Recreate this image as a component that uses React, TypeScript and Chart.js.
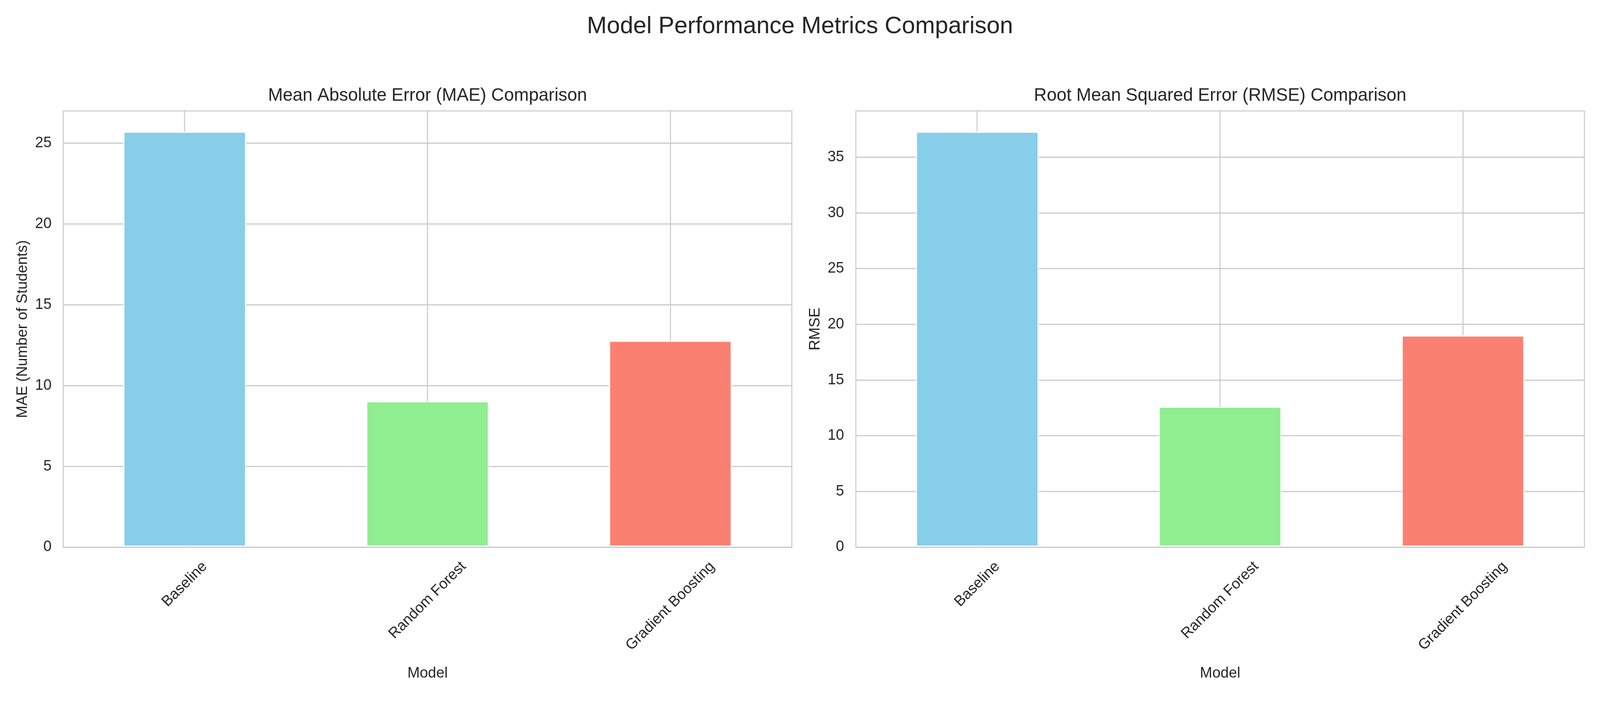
import React, { useEffect, useRef } from 'react'
import { Chart, registerables } from 'chart.js'

Chart.register(...registerables)

// values
const models = ['Baseline', 'Random Forest', 'Gradient Boosting']
const maeValues = [25.72, 9.03, 12.78]
const rmseValues = [37.3, 12.61, 19.0]
const yTickStep = 5

const FONT = '"Liberation Sans", Arial, Helvetica, sans-serif'
const TEXT = '#262626'
const GRID = '#cccccc'
const BAR_COLORS = ['#87ceeb', '#90ee90', '#fa8072']

// layout is measured on a 4500x1800 figure, then mapped onto the real window
const FIG_W = 4500
const FIG_H = 1800
const VIEW_W = window.innerWidth || FIG_W
const VIEW_H = window.innerHeight || FIG_H
const SX = VIEW_W / FIG_W
const SY = VIEW_H / FIG_H
const sx = (v: number) => v * SX
const sy = (v: number) => v * SY
const fs = (v: number) => v * SX

const TICK_SIZE = 41.7
const LINE = 3

// matplotlib-ish extras: subplot title, centred rotated x labels, 4-sided frame
const mplPlugin = {
  id: 'mplText',
  afterDatasetsDraw(chart: any) {
    const { ctx, chartArea: a } = chart
    ctx.save()
    ctx.strokeStyle = GRID
    ctx.lineWidth = sx(LINE)
    ctx.strokeRect(a.left, a.top, a.right - a.left, a.bottom - a.top)
    ctx.restore()
  },
  afterDraw(chart: any, _args: any, opts: any) {
    const { ctx, chartArea: a } = chart
    const xScale = chart.scales.x
    ctx.save()
    ctx.fillStyle = TEXT
    ctx.font = `${fs(50)}px ${FONT}`
    ctx.textAlign = 'center'
    ctx.textBaseline = 'alphabetic'
    ctx.fillText(opts.title, (a.left + a.right) / 2, a.top - sy(26))

    ctx.font = `${fs(TICK_SIZE)}px ${FONT}`
    ctx.textBaseline = 'middle'
    chart.data.labels.forEach((label: string, i: number) => {
      const w = ctx.measureText(label).width
      const box = (w + fs(TICK_SIZE) * 1.16) / Math.SQRT2
      const cx = xScale.getPixelForTick(i)
      const cy = a.bottom + sy(28) + box / 2
      ctx.save()
      ctx.translate(cx, cy)
      ctx.rotate(-Math.PI / 4)
      ctx.fillText(label, 0, 0)
      ctx.restore()
    })
    ctx.restore()
  },
}

interface PanelProps {
  title: string
  yLabel: string
  values: number[]
  left: number
  right: number
  yAxisWidth: number
  plotRight: number
  yTitleCenter: number
}

function BarPanel({ title, yLabel, values, left, right, yAxisWidth, plotRight, yTitleCenter }: PanelProps) {
  const canvasRef = useRef<HTMLCanvasElement>(null)
  const chartRef = useRef<Chart | null>(null)
  const cw = Math.round(sx(right)) - Math.round(sx(left))
  const ch = Math.round(sy(FIG_H))

  useEffect(() => {
    if (!canvasRef.current) return
    const ctx = canvasRef.current.getContext('2d')
    if (!ctx) return
    const yMax = Math.max(...values) * 1.05
    const halfLine = fs(TICK_SIZE) * 0.6

    chartRef.current = new Chart(ctx, {
      type: 'bar',
      data: {
        labels: models,
        datasets: [{
          label: yLabel,
          data: values,
          backgroundColor: BAR_COLORS,
          borderColor: '#ffffff',
          borderWidth: sx(3),
          borderSkipped: false,
          barPercentage: 0.505,
          categoryPercentage: 1,
        }],
      },
      options: {
        responsive: false,
        devicePixelRatio: 1,
        animation: false,
        layout: { padding: { top: sy(284), right: cw - sx(plotRight - left), bottom: 0, left: 0 } },
        plugins: {
          legend: { display: false },
          tooltip: { enabled: false },
          mplText: { title },
        } as any,
        scales: {
          x: {
            offset: true,
            grid: { offset: false, color: GRID, lineWidth: sx(LINE), drawTicks: false },
            border: { display: false },
            ticks: { display: false },
            title: {
              display: true,
              text: 'Model',
              color: TEXT,
              font: { family: FONT, size: fs(TICK_SIZE) },
              padding: { top: 0, bottom: sy(75) - halfLine },
            },
            afterFit: (scale: any) => { scale.height = sy(FIG_H - 1401) },
          },
          y: {
            min: 0,
            max: yMax,
            grid: { color: GRID, lineWidth: sy(LINE), drawTicks: false },
            border: { display: false },
            ticks: {
              stepSize: yTickStep,
              padding: sx(33),
              color: TEXT,
              font: { family: FONT, size: fs(TICK_SIZE) },
            },
            title: {
              display: true,
              text: yLabel,
              color: TEXT,
              font: { family: FONT, size: fs(TICK_SIZE) },
              padding: { top: sx(yTitleCenter - left) - halfLine, bottom: 0 },
            },
            afterBuildTicks: (scale: any) => {
              scale.ticks = scale.ticks.filter((t: any) => Math.abs(t.value % yTickStep) < 1e-9)
            },
            afterFit: (scale: any) => { scale.width = sx(yAxisWidth - left) },
          },
        },
      },
      plugins: [mplPlugin],
    })

    return () => {
      if (chartRef.current) { chartRef.current.destroy(); chartRef.current = null }
    }
  }, [title, yLabel, values, left, right, yAxisWidth, plotRight, yTitleCenter, cw])

  return (
    <canvas
      ref={canvasRef}
      width={cw}
      height={ch}
      style={{ position: 'absolute', left: Math.round(sx(left)), top: 0, width: cw, height: ch }}
    />
  )
}

export default function App() {
  useEffect(() => {
    document.body.style.margin = '0'
    document.body.style.overflow = 'hidden'
  }, [])

  const titleSize = fs(67)

  return (
    <div style={{ position: 'absolute', left: 0, top: 0, width: VIEW_W, height: VIEW_H, background: '#ffffff', overflow: 'hidden', fontFamily: FONT }}>
      <div style={{ position: 'absolute', left: 0, top: sy(86) - 0.8465 * titleSize, width: VIEW_W, textAlign: 'center', fontSize: titleSize, lineHeight: `${titleSize}px`, color: TEXT, whiteSpace: 'nowrap' }}>
        Model Performance Metrics Comparison
      </div>
      <BarPanel
        title="Mean Absolute Error (MAE) Comparison"
        yLabel="MAE (Number of Students)"
        values={maeValues}
        left={0}
        right={2240}
        yAxisWidth={178}
        plotRight={2227}
        yTitleCenter={64.5}
      />
      <BarPanel
        title="Root Mean Squared Error (RMSE) Comparison"
        yLabel="RMSE"
        values={rmseValues}
        left={2240}
        right={FIG_W}
        yAxisWidth={2407}
        plotRight={4456}
        yTitleCenter={2293}
      />
    </div>
  )
}
